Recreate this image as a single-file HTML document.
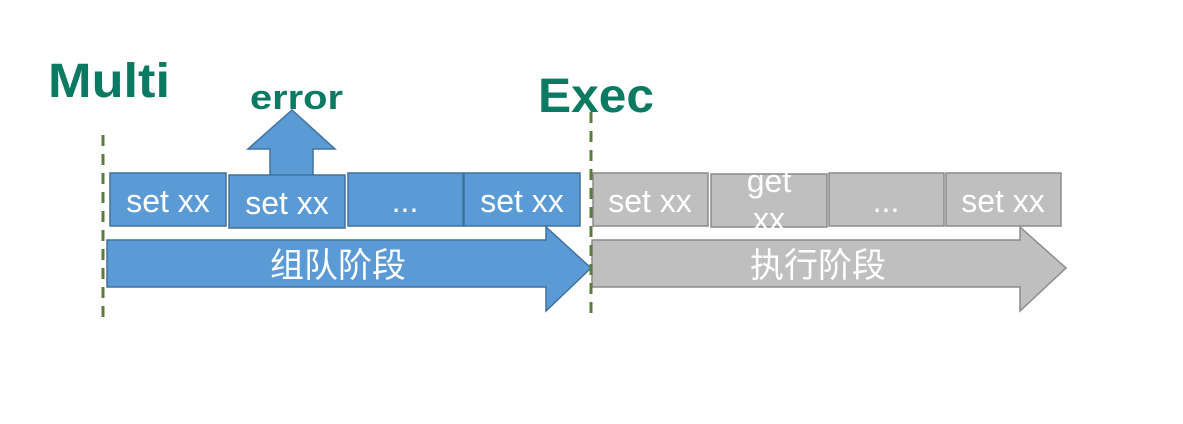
<!DOCTYPE html>
<html><head><meta charset="utf-8"><style>
html,body{margin:0;padding:0;background:#fff;}
body{width:1183px;height:424px;overflow:hidden;position:relative;}
svg{position:absolute;left:0;top:0;}
</style></head><body>
<svg width="1183" height="424" xmlns="http://www.w3.org/2000/svg">
<g font-family="Liberation Sans, sans-serif" font-weight="bold" fill="#0a7a62">
<text x="48" y="97" font-size="48" textLength="122" lengthAdjust="spacingAndGlyphs">Multi</text>
<text x="250" y="109" font-size="34" textLength="93" lengthAdjust="spacingAndGlyphs">error</text>
<text x="538" y="112" font-size="48" textLength="116" lengthAdjust="spacingAndGlyphs">Exec</text>
</g>
<polygon points="107,240 546,240 546,227 591,268 546,311 546,287 107,287" fill="#5b9bd5" stroke="#41719c" stroke-width="1.5"/>
<polygon points="592,240 1020,240 1020,227 1066,268 1020,311 1020,287 592,287" fill="#bfbfbf" stroke="#8c8c8c" stroke-width="1.5"/>
<polygon points="270,176 270,149 248,149 292,110 335,149 313,149 313,176" fill="#5b9bd5" stroke="#41719c" stroke-width="1.5"/>
<g fill="#5b9bd5" stroke="#41719c" stroke-width="1.5">
<rect x="110" y="173" width="116" height="53"/>
<rect x="229" y="175" width="116" height="53"/>
<rect x="348" y="173" width="115" height="53"/>
<rect x="464" y="173" width="116" height="53"/>
</g>
<g fill="#bfbfbf" stroke="#8c8c8c" stroke-width="1.5">
<rect x="593" y="173" width="115" height="53"/>
<rect x="711" y="174" width="116" height="53"/>
<rect x="829" y="173" width="115" height="53"/>
<rect x="946" y="173" width="115" height="53"/>
</g>
<g font-family="Liberation Sans, sans-serif" font-size="32" fill="#fff" text-anchor="middle">
<text x="168" y="212">set xx</text>
<text x="287" y="214">set xx</text>
<text x="405" y="212">...</text>
<text x="522" y="212">set xx</text>
<text x="650" y="212">set xx</text>
<text x="769" y="192">get</text>
<text x="769" y="230">xx</text>
<text x="886" y="212">...</text>
<text x="1003" y="212">set xx</text>
</g>
<g font-family="Liberation Sans, 'Noto Sans CJK SC', sans-serif" font-size="34" fill="#fff" text-anchor="middle">
<text x="338" y="277">组队阶段</text>
<text x="818" y="277">执行阶段</text>
</g>
<g stroke="#5a7d3a" stroke-width="3" stroke-dasharray="11,8">
<line x1="103" y1="135" x2="103" y2="320"/>
<line x1="591" y1="112" x2="591" y2="320"/>
</g>
</svg>
</body></html>
